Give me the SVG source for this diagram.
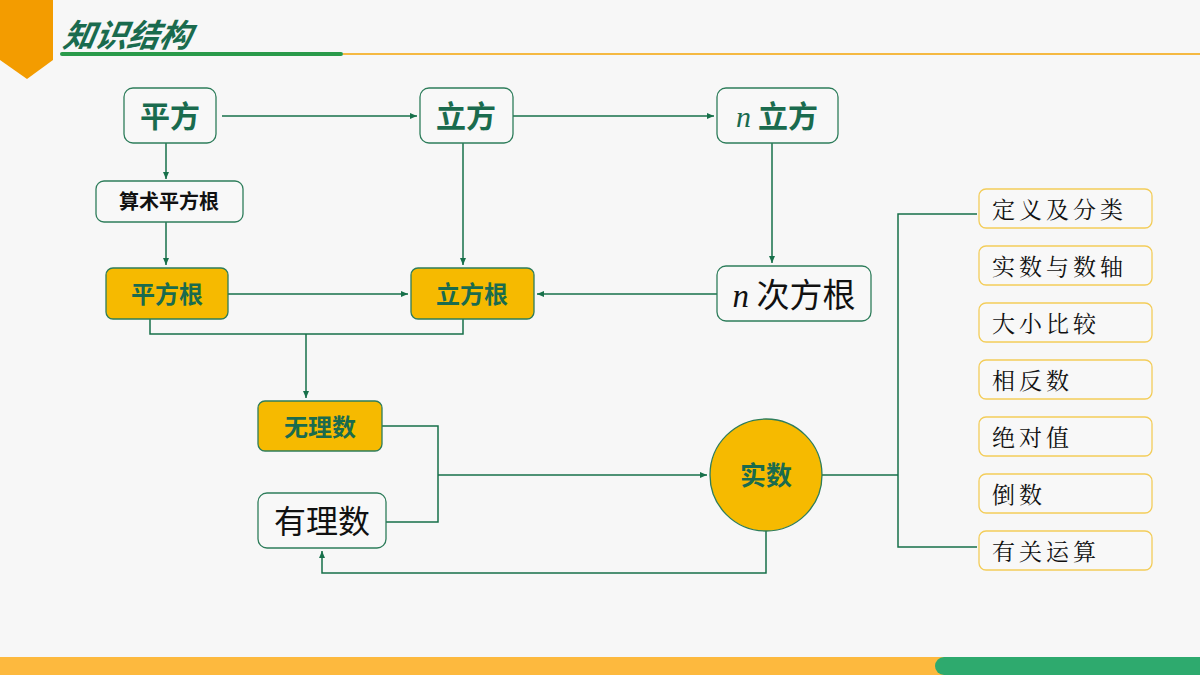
<svg xmlns="http://www.w3.org/2000/svg" width="1200" height="675" viewBox="0 0 1200 675">
<defs>
<marker id="a" markerWidth="8" markerHeight="8" refX="7" refY="4" orient="auto" markerUnits="userSpaceOnUse"><path d="M0,1 L7,4 L0,7 Z" fill="#17704A"/></marker>
<style>
.c{fill:none;stroke:#17704A;stroke-width:1.5}
.n{fill:#F8F8F8;stroke:#2E7D5B;stroke-width:1.3}
.y{fill:#F6BA00;stroke:#2E7D5B;stroke-width:1.3}
.l{fill:#F8F8F8;stroke:#F3CD5A;stroke-width:1.3}
.g{font-family:"Noto Sans CJK SC",sans-serif;font-weight:bold;fill:#1A6B4E;text-anchor:middle}
.k{font-family:"Noto Sans CJK SC",sans-serif;fill:#111;text-anchor:middle}
.s{font-family:"Noto Serif CJK SC","Noto Sans CJK SC",serif;font-size:23px;fill:#111;letter-spacing:4px}
.i{font-family:"Liberation Serif",serif;font-style:italic;font-weight:normal}
</style>
</defs>
<rect width="1200" height="675" fill="#F7F7F7"/>
<polygon points="0,0 53,0 53,60 27,79 0,60" fill="#F39C00"/>
<text x="62" y="47" font-family="Noto Sans CJK SC,sans-serif" font-weight="bold" font-style="italic" font-size="32" fill="#1A6B4E" transform="skewX(-10) translate(8,0)">知识结构</text>
<rect x="60" y="52" width="283" height="4" rx="2" fill="#2A9A4A"/>
<rect x="343" y="53" width="857" height="2" fill="#F5B942"/>
<rect x="0" y="657" width="950" height="18" fill="#FDB93E"/>
<rect x="935" y="657" width="265" height="18" rx="9" fill="#2EAA6E"/>
<rect x="1180" y="657" width="20" height="18" fill="#2EAA6E"/>
<g id="connectors">
<path class="c" d="M222,116 H417" marker-end="url(#a)"/>
<path class="c" d="M513,116 H714" marker-end="url(#a)"/>
<path class="c" d="M166,143 V179" marker-end="url(#a)"/>
<path class="c" d="M166,222 V265" marker-end="url(#a)"/>
<path class="c" d="M228,294 H408" marker-end="url(#a)"/>
<path class="c" d="M717,294 H537" marker-end="url(#a)"/>
<path class="c" d="M463,143 V265" marker-end="url(#a)"/>
<path class="c" d="M772,143 V263" marker-end="url(#a)"/>
<path class="c" d="M150,319 V334 H463 V319"/>
<path class="c" d="M306,334 V398" marker-end="url(#a)"/>
<path class="c" d="M382,426 H438 V522 H386"/>
<path class="c" d="M438,475 H707" marker-end="url(#a)"/>
<path class="c" d="M766,531 V573 H322 V551" marker-end="url(#a)"/>
<path class="c" d="M822,475 H898"/>
<path class="c" d="M977,214 H898 V547 H977"/>
</g>
<g id="n1"><rect class="n" x="124" y="88" width="92" height="55" rx="9"/><text class="g" x="170" y="127" font-size="30">平方</text></g>
<g id="n2"><rect class="n" x="420" y="88" width="93" height="55" rx="9"/><text class="g" x="466" y="127" font-size="30">立方</text></g>
<g id="n3"><rect class="n" x="717" y="88" width="121" height="55" rx="9"/><text class="g" x="777" y="127" font-size="30"><tspan class="i" font-size="30">n</tspan> 立方</text></g>
<g id="n4"><rect class="n" x="96" y="181" width="147" height="41" rx="8"/><text class="k" x="169" y="209" font-size="20" font-weight="bold">算术平方根</text></g>
<g id="n5"><rect class="y" x="106" y="268" width="122" height="51" rx="7"/><text class="g" x="167" y="303" font-size="24">平方根</text></g>
<g id="n6"><rect class="y" x="411" y="268" width="123" height="51" rx="7"/><text class="g" x="472" y="303" font-size="24">立方根</text></g>
<g id="n7"><rect class="n" x="717" y="266" width="154" height="55" rx="9"/><text class="k" x="794" y="307" font-size="33"><tspan class="i">n</tspan> 次方根</text></g>
<g id="n8"><rect class="y" x="258" y="401" width="124" height="50" rx="7"/><text class="g" x="320" y="436" font-size="24">无理数</text></g>
<g id="n9"><rect class="n" x="258" y="493" width="128" height="55" rx="9"/><text class="k" x="322" y="533" font-size="32">有理数</text></g>
<g id="n10"><circle cx="766" cy="475" r="56" fill="#F6BA00" stroke="#2E7D5B" stroke-width="1.3"/><text class="g" x="766" y="485" font-size="26">实数</text></g>
<g id="l1"><rect class="l" x="979" y="189" width="173" height="39" rx="7"/><text class="s" x="992" y="218">定义及分类</text></g>
<g id="l2"><rect class="l" x="979" y="246" width="173" height="39" rx="7"/><text class="s" x="992" y="275">实数与数轴</text></g>
<g id="l3"><rect class="l" x="979" y="303" width="173" height="39" rx="7"/><text class="s" x="992" y="332">大小比较</text></g>
<g id="l4"><rect class="l" x="979" y="360" width="173" height="39" rx="7"/><text class="s" x="992" y="389">相反数</text></g>
<g id="l5"><rect class="l" x="979" y="417" width="173" height="39" rx="7"/><text class="s" x="992" y="446">绝对值</text></g>
<g id="l6"><rect class="l" x="979" y="474" width="173" height="39" rx="7"/><text class="s" x="992" y="503">倒数</text></g>
<g id="l7"><rect class="l" x="979" y="531" width="173" height="39" rx="7"/><text class="s" x="992" y="560">有关运算</text></g>
</svg>
